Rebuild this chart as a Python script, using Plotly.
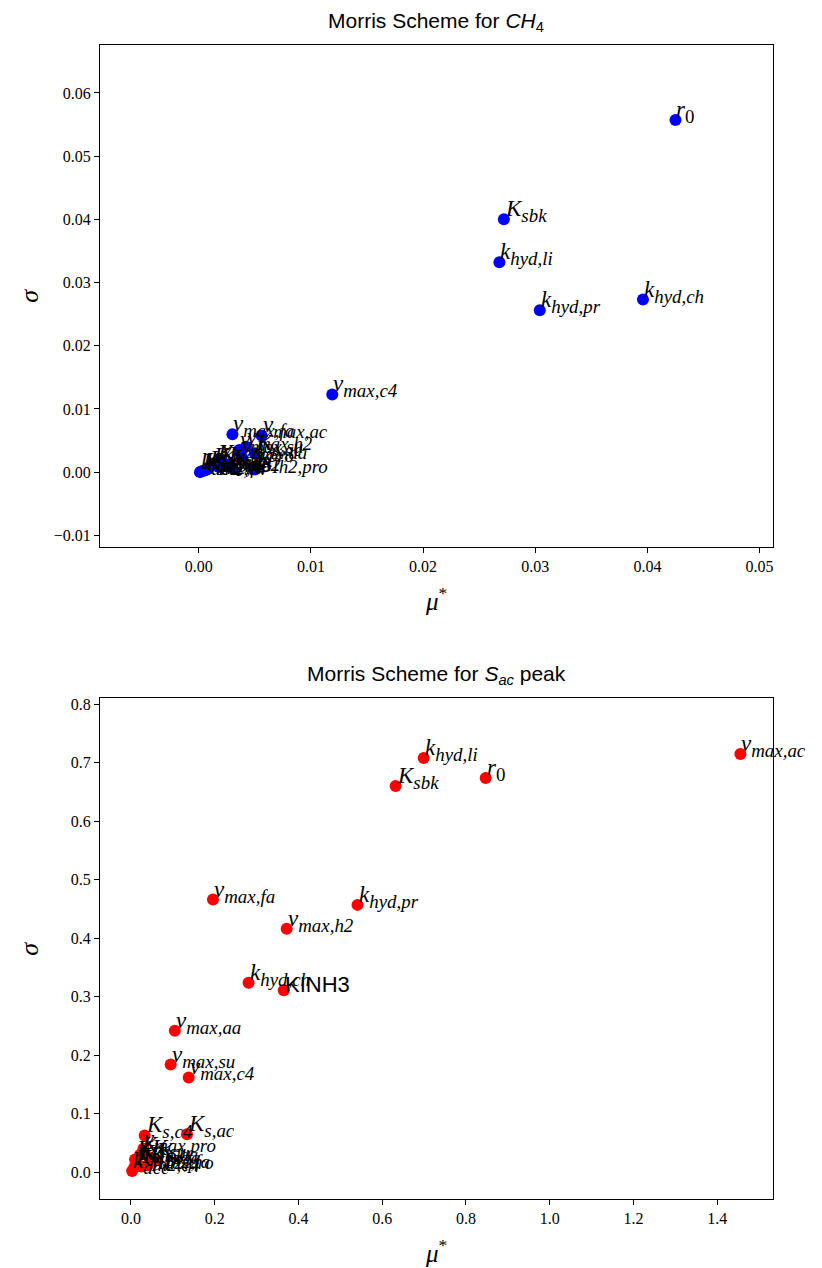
import plotly.graph_objects as go

# Morris screening results: mean absolute elementary effect (mu*) and its spread (sigma)

BASE_PX = 23  # size of the main symbol; subscripts follow the annotation font size


def sub(base, s):
    """Italic symbol with an italic subscript."""
    return f"<span style='font-size:{BASE_PX}px'><i>{base}</i></span><sub><i>{s}</i></sub>"


R0 = f"<span style='font-size:{BASE_PX}px'><i>r</i></span><sub>0</sub>"

# --- methane production ---
ch4_labels = [
    R0, sub("K", "sbk"),
    sub("k", "hyd,li"), sub("k", "hyd,pr"), sub("k", "hyd,ch"), sub("ν", "max,c4"),
    sub("ν", "max,fa"), sub("ν", "max,ac"), sub("ν", "max,h2"),
    sub("K", "s,ac"), sub("ν", "max,su"), sub("ν", "max,aa"),
    sub("ν", "max,pro"), sub("K", "s,su"), sub("K", "s,aa"),
    sub("K", "s,fa"), sub("K", "s,c4"), sub("K", "s,pro"),
    sub("K", "s,h2"), "KINH3", sub("K", "Ih2,fa"),
    sub("K", "Ih2,c4"), sub("K", "Ih2,pro"), sub("k", "dec"),
]
ch4_mu = [
    0.0425, 0.0272, 0.0268, 0.0304, 0.0396, 0.0119,
    0.0030, 0.0056, 0.0042, 0.0050, 0.0036, 0.0038,
    0.0020, 0.0015, 0.0012, 0.0025, 0.0018, 0.0008,
    0.0030, 0.0006, 0.0004, 0.0002, 0.0050, 0.0001,
]
ch4_sigma = [
    0.0557, 0.0400, 0.0332, 0.0256, 0.0273, 0.0123,
    0.0060, 0.0058, 0.0040, 0.0030, 0.0035, 0.0025,
    0.0020, 0.0015, 0.0010, 0.0012, 0.0008, 0.0005,
    0.0006, 0.0003, 0.0002, 0.0001, 0.0004, 0.0000,
]

# --- acetate peak ---
sac_labels = [
    sub("ν", "max,ac"), sub("k", "hyd,li"), R0,
    sub("K", "sbk"), sub("k", "hyd,pr"), sub("ν", "max,fa"),
    sub("ν", "max,h2"), sub("k", "hyd,ch"), "KINH3",
    sub("ν", "max,aa"), sub("ν", "max,su"), sub("ν", "max,c4"),
    sub("K", "s,c4"), sub("K", "s,ac"), sub("ν", "max,pro"),
    sub("K", "s,su"), sub("K", "s,aa"), sub("K", "s,fa"),
    sub("K", "s,pro"), sub("K", "s,h2"), sub("K", "Ih2,fa"),
    sub("K", "Ih2,c4"), sub("K", "Ih2,pro"), sub("k", "dec"),
]
sac_mu = [
    1.455, 0.699, 0.847, 0.632, 0.541, 0.196,
    0.372, 0.281, 0.365, 0.105, 0.095, 0.138,
    0.033, 0.134, 0.030, 0.022, 0.045, 0.060,
    0.015, 0.010, 0.040, 0.008, 0.025, 0.003,
]
sac_sigma = [
    0.715, 0.708, 0.674, 0.660, 0.457, 0.466,
    0.416, 0.324, 0.311, 0.242, 0.184, 0.162,
    0.063, 0.065, 0.040, 0.030, 0.025, 0.020,
    0.015, 0.022, 0.012, 0.008, 0.010, 0.002,
]

W, H = 822, 1268
SERIF = "Liberation Serif"
SANS = "Liberation Sans"

fig = go.Figure()


def px_x(p):
    return p / W


def px_y(p):
    return 1 - p / H


panels = [
    dict(mu=ch4_mu, sigma=ch4_sigma, labels=ch4_labels, color="#0000ff",
         xr=[-0.00882, 0.0512], yr=[-0.0118, 0.0676], dx=0.01, dy=0.01,
         fx=".2f", fy=".2f", top=42, bottom=545,
         title="Morris Scheme for <i>CH</i><sub>4</sub>"),
    dict(mu=sac_mu, sigma=sac_sigma, labels=sac_labels, color="#ff0000",
         xr=[-0.074, 1.533], yr=[-0.046, 0.810], dx=0.2, dy=0.1,
         fx=".1f", fy=".1f", top=697, bottom=1199,
         title="Morris Scheme for <i>S<sub>ac</sub></i> peak"),
]

annotations = []
for i, p in enumerate(panels, start=1):
    xa = "x" if i == 1 else f"x{i}"
    ya = "y" if i == 1 else f"y{i}"
    fig.add_trace(go.Scatter(
        x=p["mu"], y=p["sigma"], mode="markers", xaxis=xa, yaxis=ya,
        marker=dict(color=p["color"], size=12, line=dict(width=0)),
        showlegend=False, hoverinfo="skip",
    ))
    axis_common = dict(
        showgrid=False, zeroline=False, showline=True, mirror=True,
        linecolor="black", linewidth=1, ticks="outside", ticklen=5,
        tickcolor="black", tickfont=dict(family=SERIF, size=16, color="black"),
    )
    fig.update_layout(**{
        ("xaxis" if i == 1 else f"xaxis{i}"): dict(
            axis_common, domain=[px_x(100), px_x(774)], range=p["xr"],
            dtick=p["dx"], tick0=0, tickformat=p["fx"], anchor=ya,
        ),
        ("yaxis" if i == 1 else f"yaxis{i}"): dict(
            axis_common, domain=[px_y(p["bottom"]), px_y(p["top"])], range=p["yr"],
            dtick=p["dy"], tick0=0, tickformat=p["fy"], anchor=xa,
        ),
    })
    # point labels, placed to the upper right of each marker
    for m, s, lab in zip(p["mu"], p["sigma"], p["labels"]):
        plain = not lab.startswith("<")
        annotations.append(dict(
            x=m, y=s, xref=xa, yref=ya, text=lab, showarrow=False,
            xanchor="left", yanchor="bottom", xshift=-1, yshift=-9,
            font=dict(family=SANS if plain else SERIF, size=22 if plain else 27,
                      color="black"),
        ))
    # panel title
    annotations.append(dict(
        x=0.5 * (px_x(100) + px_x(774)), y=px_y(p["top"] - 8), xref="paper", yref="paper",
        text=p["title"], showarrow=False, xanchor="center", yanchor="bottom",
        font=dict(family=SANS, size=21, color="black"),
    ))
    # axis titles
    annotations.append(dict(
        x=0.5 * (px_x(100) + px_x(774)), y=px_y(p["bottom"] + 52), xref="paper",
        yref="paper", text="<i>μ</i><sup>*</sup>", showarrow=False,
        xanchor="center", yanchor="middle",
        font=dict(family=SERIF, size=25, color="black"),
    ))
    annotations.append(dict(
        x=px_x(30), y=px_y(0.5 * (p["top"] + p["bottom"])), xref="paper",
        yref="paper", text="<i>σ</i>", showarrow=False, textangle=-90,
        xanchor="center", yanchor="middle",
        font=dict(family=SERIF, size=26, color="black"),
    ))

fig.update_layout(
    width=W, height=H, autosize=False,
    margin=dict(l=0, r=0, t=0, b=0),
    plot_bgcolor="white", paper_bgcolor="white",
    annotations=annotations,
)

fig.write_html("out.html")
